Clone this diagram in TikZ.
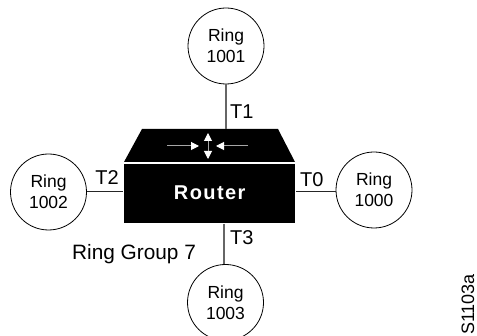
\documentclass[tikz,border=0pt]{standalone}
\usepackage{fontspec}
\setmainfont{Liberation Sans}
\usetikzlibrary{arrows.meta}
\tikzset{
  ring/.style={draw=black,circle,line width=0.8pt,minimum size=76pt,inner sep=0pt,align=center,font=\fontsize{17.5}{21}\selectfont},
  link/.style={draw=black!60,line width=1.5pt},
  thinlink/.style={draw=black!85,line width=0.9pt},
  lbl/.style={font=\fontsize{20}{23}\selectfont,inner sep=0pt},
  wht/.style={draw=black!35,line width=1pt,-{Triangle[length=8pt,width=8pt,color=white]}},
}
\begin{document}
\begin{tikzpicture}[x=1pt,y=-1pt]
\useasboundingbox (0,0) rectangle (477,336);
\fill[white] (0,0) rectangle (477,336);
\begin{scope}
\clip (0,0) rectangle (477,336);
\node[ring] (r1) at (226,46) {Ring\\1001};
\node[ring] (r2) at (48.5,192) {Ring\\1002};
\node[ring] (r0) at (374,190) {Ring\\1000};
\node[ring] (r3) at (225.5,302.5) {Ring\\1003};
\end{scope}
\fill[black] (142,129) -- (278,129) -- (295,162) -- (124,162) -- cycle;
\node[fill=black,minimum width=171pt,minimum height=59pt,inner sep=0pt,anchor=north west,text=white,font=\fontsize{20}{23}\selectfont\bfseries] (box) at (124,163.5) {\addfontfeature{LetterSpace=7}Router};
\coordinate (c1) at (226,129);
\coordinate (c2) at (122.5,191);
\coordinate (c0) at (296,191);
\coordinate (c3) at (224,224);
\draw[link] (r1.south) -- (c1);
\draw[thinlink] (r2.east |- c2) -- (c2);
\draw[thinlink] (r0.west |- c0) -- (c0);
\draw[link] (c3) -- (c3 |- r3.north);
\coordinate (a1) at (167,146);\coordinate (a2) at (199,146);
\coordinate (b1) at (248,146);\coordinate (b2) at (216,146);
\coordinate (m) at (208,146);\coordinate (u) at (208,133);\coordinate (d) at (208,159);
\draw[wht] (a1) -- (a2);
\draw[wht] (b1) -- (b2);
\draw[wht] (m) -- (u);
\draw[wht] (m) -- (d);
\node[lbl,anchor=west] (t1) at (230,112) {T1};
\node[lbl,anchor=east] (t2) at (119,178) {T2};
\node[lbl,anchor=west] (t0) at (300,180) {T0};
\node[lbl,anchor=west] (t3) at (230,238) {T3};
\node[lbl,anchor=west,font=\fontsize{20.8}{24}\selectfont] (g) at (72,254) {Ring Group 7};
\node[rotate=90,anchor=base west,inner sep=0pt,font=\fontsize{18}{20}\selectfont] (s) at (474,335) {S1103a};
\end{tikzpicture}
\end{document}
